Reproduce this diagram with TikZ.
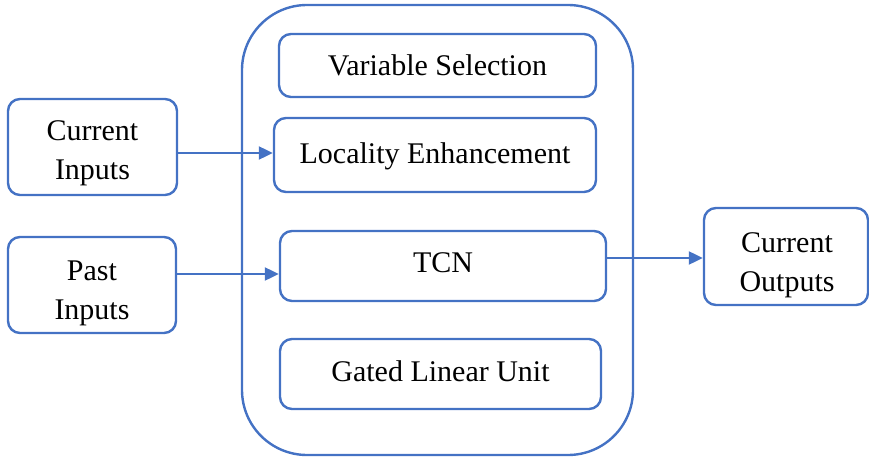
\documentclass[tikz,border=0pt]{standalone}
\usepackage{fontspec}
\setmainfont{Liberation Serif}
\usetikzlibrary{arrows.meta}
\definecolor{lineblue}{HTML}{4472C4}
\begin{document}
\begin{tikzpicture}[x=1pt,y=-1pt,
  box/.style={draw=lineblue,line width=2.4pt,rounded corners=12pt,inner sep=0pt},
  txt/.style={align=center,inner sep=0pt,font=\fontsize{30}{39}\selectfont},
  conn/.style={draw=lineblue,line width=2.2pt,-{Triangle[length=14pt,width=13pt]}}]
\useasboundingbox (0,0) rectangle (869,457);
\draw[lineblue,line width=2.4pt,rounded corners=65pt] (242,5) rectangle (633,455);
\node[box,minimum width=169pt,minimum height=96pt] (ci) at (92.5,147) {};
\node[txt] (cit) at (92.5,153) {Current\\Inputs};
\node[box,minimum width=168pt,minimum height=96pt] (pi) at (92,285) {};
\node[txt] (pit) at (92,293) {Past\\Inputs};
\node[box,minimum width=317pt,minimum height=63pt] (vs) at (437.5,65.5) {};
\node[txt] (vst) at (437.5,65.5) {Variable Selection};
\node[box,minimum width=322pt,minimum height=74pt] (le) at (435,155) {};
\node[txt] (let) at (435,156) {Locality Enhancement};
\node[box,minimum width=326pt,minimum height=70pt] (tcn) at (443,266) {};
\node[txt] (tcnt) at (443,263) {TCN};
\node[box,minimum width=321pt,minimum height=70pt] (glu) at (440.5,374) {};
\node[txt] (glut) at (440.5,371) {Gated Linear Unit};
\node[box,minimum width=164pt,minimum height=97pt] (co) at (786,256.5) {};
\node[txt] (cot) at (787,265) {Current\\Outputs};
\draw[conn] (ci.east |- 0,153) -- (le.west |- 0,153);
\draw[conn] (pi.east |- 0,274) -- (tcn.west |- 0,274);
\draw[conn] (tcn.east |- 0,258) -- (co.west |- 0,258);
\end{tikzpicture}
\end{document}
